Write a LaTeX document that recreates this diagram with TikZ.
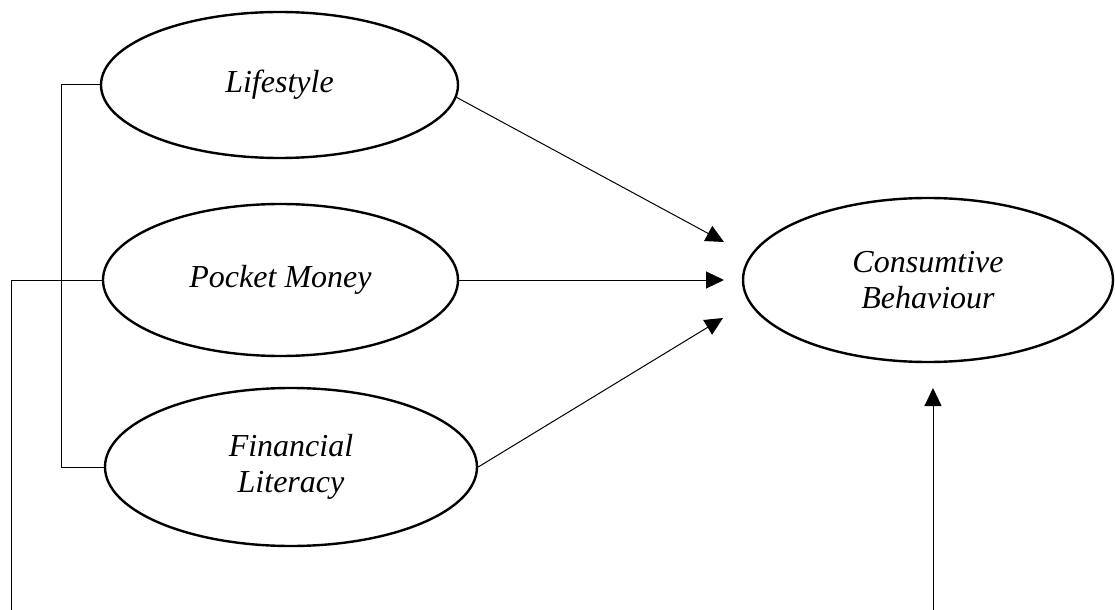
\documentclass[tikz,border=0pt]{standalone}
\usepackage{fontspec}
\setmainfont{Liberation Serif}[ItalicFont={Liberation Serif Italic}]
\usetikzlibrary{shapes, arrows.meta, positioning}

\begin{document}
\begin{tikzpicture}[x=0.5pt, y=-0.5pt, font=\fontsize{16}{18}\selectfont\itshape, >={Triangle[length=9pt, width=8.5pt]},
    construct/.style={draw, ellipse, line width=1.2pt, align=center, inner sep=0pt},
    link/.style={line width=0.5pt}]
    \useasboundingbox (0,0) rectangle (1115,610);

    \node[construct, minimum width=178.5pt, minimum height=73pt] (life) at (279.5,85) {Lifestyle};
    \node[construct, minimum width=177.5pt, minimum height=76pt] (pocket) at (280.5,280) {Pocket Money};
    \node[construct, minimum width=186pt, minimum height=79pt] (fin) at (291,467) {Financial\\Literacy};
    \node[construct, minimum width=185pt, minimum height=82pt] (cb) at (928,280) {Consumtive\\Behaviour};

    \coordinate (inLife) at (724,242);
    \coordinate (inPocket) at (724,280);
    \coordinate (inFin) at (723,318);
    \coordinate (inBottom) at (933,388);
    \coordinate (baseLeft) at (11,610);
    \coordinate (baseRight) at (933,610);

    \draw[link, ->] (life.-4) -- (inLife);
    \draw[link, ->] (pocket.east) -- (inPocket);
    \draw[link, ->] (fin.east) -- (inFin);

    \draw[link] (life.west) -- ++(-38,0) |- (fin.west);
    \draw[link] (pocket.west) -| (baseLeft);

    \draw[link, ->] (baseRight) -- (inBottom);
\end{tikzpicture}
\end{document}
